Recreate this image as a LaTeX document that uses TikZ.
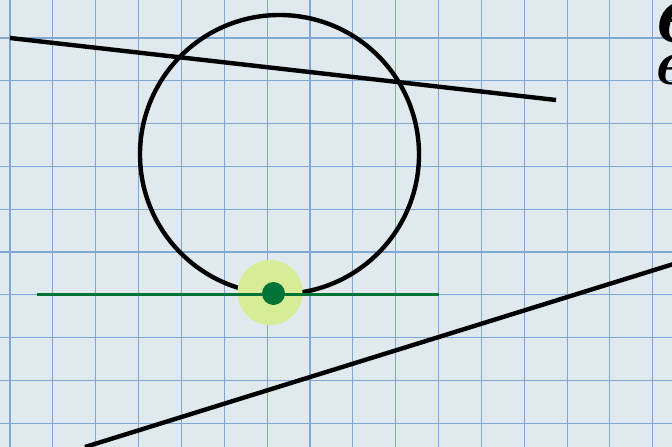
\documentclass[tikz,border=0pt]{standalone}
\usepackage{fontspec}
\begin{document}
\begin{tikzpicture}[x=1pt,y=-1pt,
  paper/.style={fill=paperbg},
  gridline/.style={draw=gridblue,line width=1.1pt},
  ink/.style={draw=black,line width=4.4pt},
  tangent/.style={draw=tangreen,line width=3.8pt},
  halo/.style={fill=halogreen},
  dot/.style={fill=tangreen},
  hand/.style={font=\fontsize{92}{92}\selectfont\bfseries\itshape,inner sep=0pt,anchor=base west}]
\definecolor{paperbg}{RGB}{224,233,238}
\definecolor{gridblue}{RGB}{128,166,210}
\definecolor{tangreen}{RGB}{0,115,55}
\definecolor{halogreen}{RGB}{214,236,150}
\useasboundingbox (0,0) rectangle (672,447);
\clip (0,0) rectangle (672,447);
\fill[paper] (0,0) rectangle (672,447);
\foreach \i in {0,...,15} {
  \draw[gridline] (10+42.85*\i,0) -- (10+42.85*\i,447);
}
\foreach \j in {0,...,10} {
  \draw[gridline] (0,-4.8+42.8*\j) -- (672,-4.8+42.8*\j);
}
% circle
\coordinate (c) at (279.5,154.5);
\draw[ink] (c) circle[radius=139.5];
% lines
\coordinate (a1) at (10,38);
\coordinate (a2) at (556,100);
\draw[ink] (a1) -- (a2);
\coordinate (b1) at (85,447);
\coordinate (b2) at (680,262);
\draw[ink] (b1) -- (b2);
% tangent point
\coordinate (p) at (273.5,293.5);
\fill[halo] (270,292.5) circle[radius=32.5];
\coordinate (t1) at (37,294.5);
\coordinate (t2) at (439,294.5);
\draw[tangent] (t1) -- (t2);
\fill[dot] (p) circle[radius=11.5];
% handwritten text, cut off at the right edge
\node[hand] (e1) at (649,42) {e};
\node[hand,font=\fontsize{66}{66}\selectfont\bfseries\itshape] (e2) at (651,84) {e};
\end{tikzpicture}
\end{document}
